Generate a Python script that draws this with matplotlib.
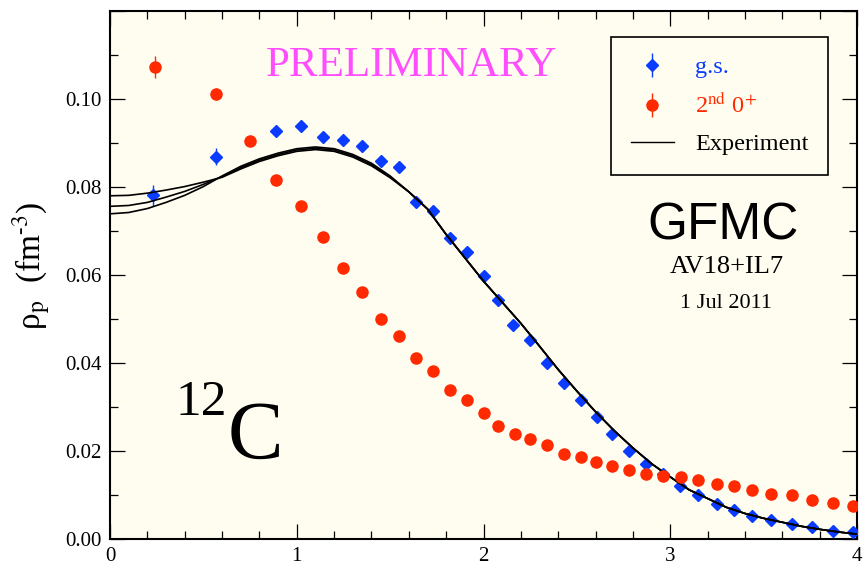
import numpy as np
import matplotlib
matplotlib.use("Agg")
import matplotlib.pyplot as plt
from matplotlib.ticker import MultipleLocator

plt.rcParams['font.family'] = 'serif'
plt.rcParams['font.serif'] = ['Liberation Serif', 'DejaVu Serif']
plt.rcParams['mathtext.fontset'] = 'stix'

# GFMC ground state
x_gs = [0.23, 0.57, 0.89, 1.02, 1.14, 1.25, 1.35, 1.45, 1.55, 1.64,
        1.73, 1.82, 1.91, 2.00, 2.08, 2.16, 2.25, 2.34, 2.43, 2.52,
        2.61, 2.69, 2.78, 2.87, 2.96, 3.05, 3.15, 3.25, 3.34, 3.44,
        3.54, 3.65, 3.76, 3.87, 3.98]
rho_gs = [0.0781, 0.0869, 0.0927, 0.0938, 0.0914, 0.0907, 0.0894, 0.0860, 0.0845, 0.0766,
          0.0746, 0.0683, 0.0652, 0.0598, 0.0544, 0.0487, 0.0452, 0.0400, 0.0355, 0.0317,
          0.0277, 0.0238, 0.0199, 0.0171, 0.0148, 0.0121, 0.0100, 0.0080, 0.0066, 0.0053,
          0.0043, 0.0034, 0.0027, 0.0018, 0.0015]
err_gs = [0.0024, 0.0019] + [0.0003] * 33

# GFMC second 0+
x_ex = [0.24, 0.57, 0.75, 0.89, 1.02, 1.14, 1.25, 1.35, 1.45, 1.55,
        1.64, 1.73, 1.82, 1.91, 2.00, 2.08, 2.17, 2.25, 2.34, 2.43,
        2.52, 2.60, 2.69, 2.78, 2.87, 2.96, 3.06, 3.15, 3.25, 3.34,
        3.44, 3.54, 3.65, 3.76, 3.87, 3.98]
rho_ex = [0.1073, 0.1011, 0.0905, 0.0816, 0.0757, 0.0686, 0.0616, 0.0561, 0.0499, 0.0461,
          0.0412, 0.0381, 0.0339, 0.0315, 0.0286, 0.0257, 0.0239, 0.0227, 0.0213, 0.0194,
          0.0187, 0.0175, 0.0165, 0.0156, 0.0148, 0.0144, 0.0141, 0.0133, 0.0125, 0.0121,
          0.0112, 0.0103, 0.0099, 0.0089, 0.0081, 0.0074]
err_ex = [0.0025, 0.0014] + [0.0003] * 34

# experimental density, three curves (read every 0.1 fm)
x_exp = [i / 10 for i in range(41)]
exp_tail = [0.0789, 0.0750, 0.0692, 0.0639, 0.0586, 0.0538, 0.0490, 0.0438, 0.0385, 0.0336,
            0.0289, 0.0246, 0.0207, 0.0171, 0.0141, 0.0112, 0.0092, 0.0072, 0.0058, 0.0047,
            0.0038, 0.0029, 0.0022, 0.0016, 0.0011]
exp_a = [0.0780, 0.0781, 0.0786, 0.0793, 0.0801, 0.0811, 0.0822, 0.0841, 0.0858, 0.0871,
         0.0881, 0.0885, 0.0881, 0.0868, 0.0848, 0.0821] + exp_tail
exp_b = [0.0756, 0.0758, 0.0765, 0.0777, 0.0790, 0.0806, 0.0824, 0.0844, 0.0861, 0.0874,
         0.0884, 0.0888, 0.0884, 0.0871, 0.0851, 0.0823] + exp_tail
exp_c = [0.0739, 0.0742, 0.0751, 0.0765, 0.0781, 0.0801, 0.0825, 0.0847, 0.0864, 0.0877,
         0.0887, 0.0891, 0.0887, 0.0874, 0.0854, 0.0825] + exp_tail

blue = '#0a3cff'
red = '#ff2a00'
bg = '#fffcf0'

fig = plt.figure(figsize=(8.63, 5.66), dpi=100)
ax = fig.add_axes([0.1275, 0.0477, 0.8656, 0.9329])
ax.set_facecolor(bg)

h_gs = ax.errorbar(x_gs, rho_gs, yerr=err_gs, fmt='D', color=blue, ms=5.8,
                   elinewidth=1, capsize=0, zorder=3)
for y in (exp_a, exp_b, exp_c):
    ax.plot(x_exp, y, color='black', lw=1.2, zorder=4)
h_ex = ax.errorbar(x_ex, rho_ex, yerr=err_ex, fmt='o', color=red, ms=8,
                   elinewidth=1, capsize=0, zorder=5)
h_exp, = ax.plot([], [], color='black', lw=1)

ax.set_xlim(0, 4)
ax.set_ylim(0, 0.12)
ax.xaxis.set_major_locator(MultipleLocator(1))
ax.xaxis.set_minor_locator(MultipleLocator(0.2))
ax.yaxis.set_major_locator(MultipleLocator(0.02))
ax.yaxis.set_minor_locator(MultipleLocator(0.01))
ax.yaxis.set_major_formatter(plt.FuncFormatter(
    lambda v, p: '' if v > 0.11 else f'{v:.2f}'))
ax.tick_params(which='both', direction='in', top=True, right=True, width=0.9)
ax.tick_params(which='major', length=11, labelsize=15, pad=6)
ax.tick_params(which='minor', length=5.5)
for s in ax.spines.values():
    s.set_linewidth(1.5)

fig.text(32 / 863, 1 - 266 / 566, r'ρ$_{\rm p}$  (fm$^{\text{-3}}$)', rotation=90,
         ha='center', va='center', fontsize=24)

leg = ax.legend([h_gs, h_ex, h_exp], ['g.s.', r'2$^{\rm nd}$ 0$^{+}$', 'Experiment'],
                loc='upper right', bbox_to_anchor=(0.961, 0.951), borderaxespad=0,
                fontsize=17.5, frameon=True, fancybox=False, edgecolor='black',
                facecolor=bg, framealpha=1, handlelength=1.8, handletextpad=0.85,
                labelspacing=0.62, borderpad=0.8)
leg.get_frame().set_linewidth(1.2)
for t, c in zip(leg.get_texts(), [blue, red, 'black']):
    t.set_color(c)

ax.text(0.404, 0.877, 'PRELIMINARY', transform=ax.transAxes, ha='center',
        va='baseline', fontsize=31, color='#ff4dff')
ax.text(0.821, 0.568, 'GFMC', transform=ax.transAxes, ha='center', va='baseline',
        fontsize=37, family='Liberation Sans')
ax.text(0.825, 0.504, 'AV18+IL7', transform=ax.transAxes, ha='center', va='baseline',
        fontsize=19)
ax.text(0.825, 0.4375, '1 Jul 2011', transform=ax.transAxes, ha='center', va='baseline',
        fontsize=16)
ax.text(0.087, 0.235, '12', transform=ax.transAxes, ha='left', va='baseline', fontsize=37)
ax.text(0.157, 0.153, 'C', transform=ax.transAxes, ha='left', va='baseline', fontsize=60)

fig.savefig('out.png', dpi=100)
